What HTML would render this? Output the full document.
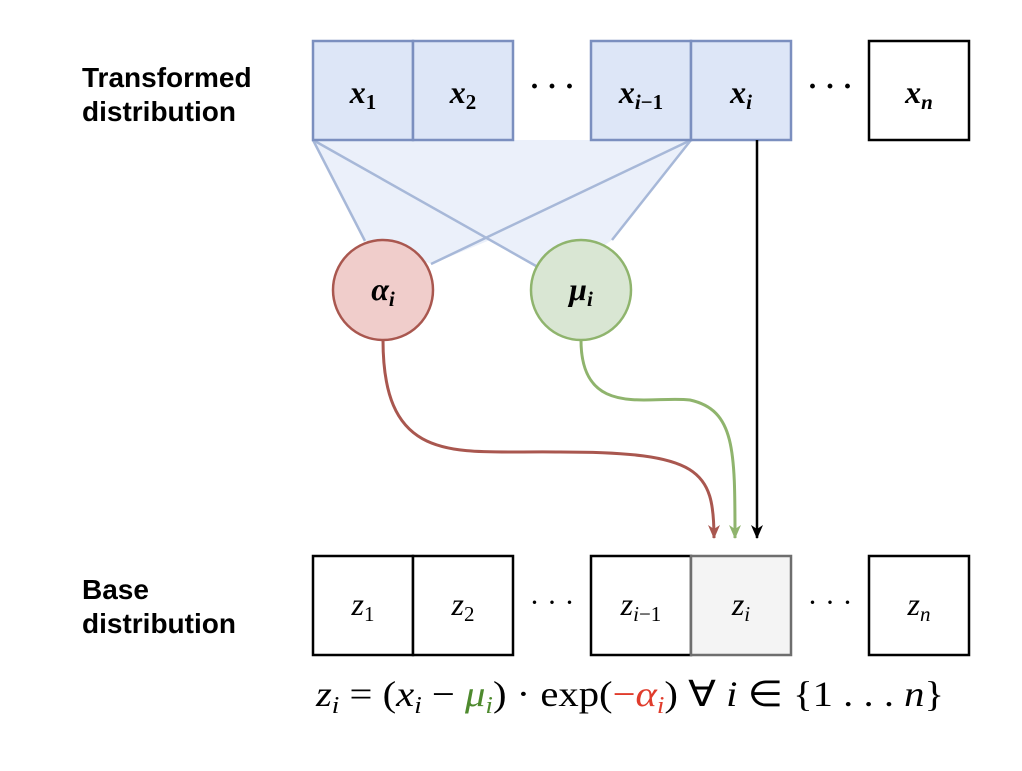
<!DOCTYPE html>
<html><head><meta charset="utf-8"><style>
body{margin:0;background:#fff;}
svg text{font-family:"Liberation Serif",serif;}
.lab{font-family:"Liberation Sans",sans-serif;font-weight:bold;font-size:28px;fill:#000;}
.m{font-style:italic;font-size:32px;}
.s{font-size:21px;}
</style></head><body>
<svg width="1022" height="766" viewBox="0 0 1022 766" xmlns="http://www.w3.org/2000/svg">
<defs>
<marker id="ab" markerWidth="14" markerHeight="12" refX="13" refY="6" orient="auto" markerUnits="userSpaceOnUse" viewBox="0 0 14 12"><path d="M0,0 L14,6 L0,12 L4,6 Z" fill="#000"/></marker>
<marker id="ar" markerWidth="14" markerHeight="12" refX="13" refY="6" orient="auto" markerUnits="userSpaceOnUse" viewBox="0 0 14 12"><path d="M0,0 L14,6 L0,12 L4,6 Z" fill="#a9574f"/></marker>
<marker id="ag" markerWidth="14" markerHeight="12" refX="13" refY="6" orient="auto" markerUnits="userSpaceOnUse" viewBox="0 0 14 12"><path d="M0,0 L14,6 L0,12 L4,6 Z" fill="#8fb46d"/></marker>
</defs>
<text class="lab" x="82" y="87">Transformed</text>
<text class="lab" x="82" y="121">distribution</text>
<text class="lab" x="82" y="599">Base</text>
<text class="lab" x="82" y="633">distribution</text>

<polygon points="313,140 691,140 612,240 581,262 540,268 490,240 432,264 365,240" fill="#dde6f7" opacity="0.6"/>
<g stroke="#a7b8d8" stroke-width="2.5" fill="none">
<line x1="313" y1="140" x2="365" y2="241"/>
<line x1="313" y1="140" x2="536" y2="266"/>
<line x1="691" y1="140" x2="431" y2="264"/>
<line x1="691" y1="140" x2="612" y2="240"/>
</g>

<g fill="#dde6f7" stroke="#7b8fbf" stroke-width="2.5">
<rect x="313" y="41" width="100" height="99"/>
<rect x="413" y="41" width="100" height="99"/>
<rect x="591" y="41" width="100" height="99"/>
<rect x="691" y="41" width="100" height="99"/>
</g>
<rect x="869" y="41" width="100" height="99" fill="#fff" stroke="#000" stroke-width="2.5"/>
<g fill="#000" text-anchor="middle" font-weight="bold">
<text class="m" x="363" y="103">x<tspan class="s" font-style="normal" dy="6">1</tspan></text>
<text class="m" x="463" y="103">x<tspan class="s" font-style="normal" dy="6">2</tspan></text>
<text x="552" y="96" font-size="30">· · ·</text>
<text class="m" x="641" y="103">x<tspan class="s" dy="6">i</tspan><tspan class="s" font-style="normal">−1</tspan></text>
<text class="m" x="741" y="103">x<tspan class="s" dy="6">i</tspan></text>
<text x="830" y="96" font-size="30">· · ·</text>
<text class="m" x="919" y="103">x<tspan class="s" dy="6">n</tspan></text>
</g>

<circle cx="383" cy="290" r="50" fill="#f0cdcb" stroke="#a9574f" stroke-width="2.5"/>
<circle cx="581" cy="290" r="50" fill="#d9e6d3" stroke="#8fb46d" stroke-width="2.5"/>
<text class="m" x="383" y="300" font-weight="bold" text-anchor="middle">α<tspan class="s" dy="6">i</tspan></text>
<text class="m" x="581" y="300" font-weight="bold" text-anchor="middle">μ<tspan class="s" dy="6">i</tspan></text>

<path d="M383,340 C383,470 460,450 560,452 C700,452 714,470 714,538" stroke="#a9574f" stroke-width="3" fill="none" marker-end="url(#ar)"/>
<path d="M581,340 C581,420 650,395 690,400 C735,410 735,450 735,538" stroke="#8fb46d" stroke-width="3" fill="none" marker-end="url(#ag)"/>
<line x1="757" y1="140" x2="757" y2="538" stroke="#000" stroke-width="2.5" marker-end="url(#ab)"/>

<g fill="#fff" stroke="#000" stroke-width="2.5">
<rect x="313" y="556" width="100" height="99"/>
<rect x="413" y="556" width="100" height="99"/>
<rect x="591" y="556" width="100" height="99"/>
<rect x="869" y="556" width="100" height="99"/>
</g>
<rect x="691" y="556" width="100" height="99" fill="#f4f4f4" stroke="#6e6e6e" stroke-width="2.5"/>
<g fill="#000" text-anchor="middle">
<text class="m" x="363" y="615">z<tspan class="s" font-style="normal" dy="6">1</tspan></text>
<text class="m" x="463" y="615">z<tspan class="s" font-style="normal" dy="6">2</tspan></text>
<text x="552" y="612" font-size="30">· · ·</text>
<text class="m" x="641" y="615">z<tspan class="s" dy="6">i</tspan><tspan class="s" font-style="normal">−1</tspan></text>
<text class="m" x="741" y="615">z<tspan class="s" dy="6">i</tspan></text>
<text x="830" y="612" font-size="30">· · ·</text>
<text class="m" x="919" y="615">z<tspan class="s" dy="6">n</tspan></text>
</g>

<text x="630" y="706" font-size="36" fill="#000" text-anchor="middle" textLength="628" lengthAdjust="spacingAndGlyphs"><tspan font-style="italic">z</tspan><tspan font-size="24" font-style="italic" dy="7">i</tspan><tspan dy="-7"> = (</tspan><tspan font-style="italic">x</tspan><tspan font-size="24" font-style="italic" dy="7">i</tspan><tspan dy="-7"> − </tspan><tspan fill="#4e8a2e" font-style="italic">μ</tspan><tspan fill="#4e8a2e" font-size="24" font-style="italic" dy="7">i</tspan><tspan dy="-7">) · exp(</tspan><tspan fill="#e03c2c">−</tspan><tspan fill="#e03c2c" font-style="italic">α</tspan><tspan fill="#e03c2c" font-size="24" font-style="italic" dy="7">i</tspan><tspan dy="-7">)  ∀ </tspan><tspan font-style="italic">i</tspan><tspan> ∈ {1 . . . </tspan><tspan font-style="italic">n</tspan><tspan>}</tspan></text>
</svg>
</body></html>
